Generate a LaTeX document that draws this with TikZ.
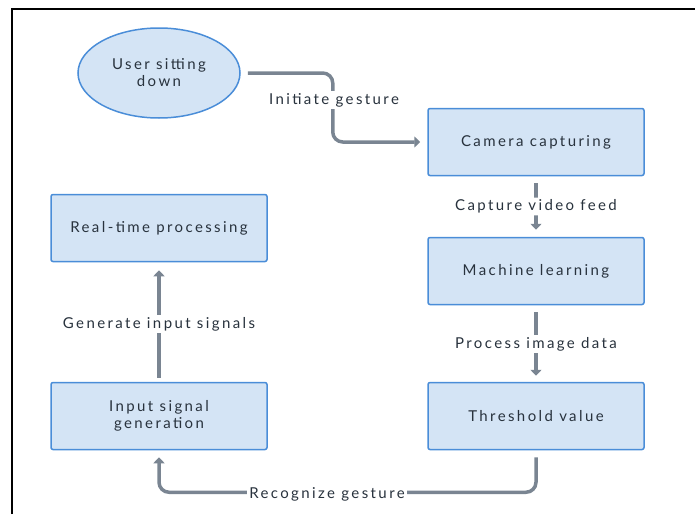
\documentclass[tikz,border=0pt]{standalone}
\usepackage{fontspec}
\setmainfont[LetterSpace=16]{Lato}
\usetikzlibrary{arrows.meta,shapes.geometric}
\definecolor{boxfill}{HTML}{D4E4F5}
\definecolor{boxline}{HTML}{4A8DD8}
\definecolor{arr}{HTML}{7A8592}
\definecolor{txt}{HTML}{28323D}
\begin{document}
\begin{tikzpicture}[x=1pt,y=-1pt,
  lbl/.style={text=txt, font=\fontsize{15}{17}\selectfont},
  box/.style={lbl, draw=boxline, fill=boxfill, line width=1.5pt, rounded corners=2pt,
    minimum width=216pt, minimum height=67pt, align=center},
  oval/.style={lbl, ellipse, draw=boxline, fill=boxfill, line width=1.5pt,
    minimum width=162pt, minimum height=90pt, inner sep=0pt, align=center},
  conn/.style={draw=arr, line width=3.5pt, -{Triangle[length=6pt,width=11pt]}, rounded corners=10pt},
  lab/.style={lbl, fill=white, inner sep=2pt}]
\useasboundingbox (0,0) rectangle (695,514);
\draw[line width=2pt] (12,514) -- (12,9) -- (695,9);

\node[oval] (user) at (159,73) {User sitting\\down};
\node[box] (cam) at (536,142) {Camera capturing};
\node[box] (ml) at (536,271) {Machine learning};
\node[box] (thr) at (536,416) {Threshold value};
\node[box] (rtp) at (159,228) {Real-time processing};
\node[box] (isg) at (159,416) {Input signal\\generation};

\draw[conn] ([xshift=7pt]user.east) -- ++(85,0) |- ([xshift=-7pt]cam.west);
\node[lab] (l1) at (334,100) {Initiate gesture};

\draw[conn] ([yshift=-7pt]cam.south) -- ([yshift=7pt]ml.north)
  node[lab, midway] (l2) {Capture video feed};
\draw[conn] ([yshift=-7pt]ml.south) -- ([yshift=6pt]thr.north)
  node[lab, midway] (l3) {Process image data};
\draw[conn] ([yshift=-7pt]thr.south) -- ++(0,35) -| ([yshift=-7pt]isg.south);
\node[lab] (l4) at (327,494) {Recognize gesture};
\draw[conn] ([yshift=4pt]isg.north) -- ([yshift=-8pt]rtp.south)
  node[lab, midway] (l5) {Generate input signals};
\end{tikzpicture}
\end{document}
